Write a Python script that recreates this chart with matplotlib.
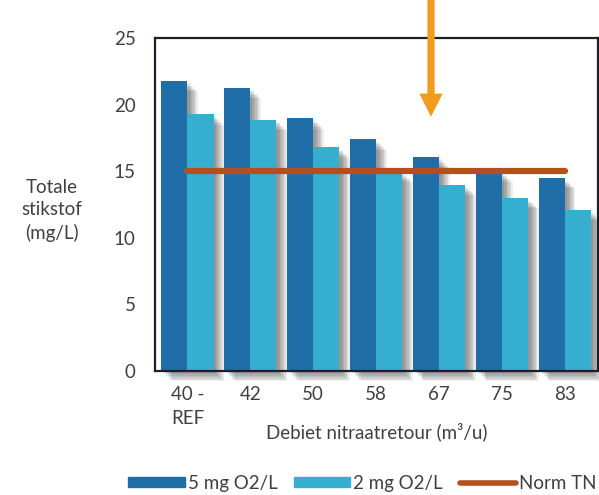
import numpy as np
import matplotlib.pyplot as plt
import matplotlib.patheffects as pe
from matplotlib.patches import FancyArrow

plt.rcParams['font.family'] = ['Lato', 'DejaVu Sans']

# flow of nitrate return [m3/h] and total nitrogen in effluent [mg/L]
debiet = ['40 -\nREF', '42', '50', '58', '67', '75', '83']
tn_5mg = [21.8, 21.3, 19.0, 17.4, 16.1, 15.0, 14.5]
tn_2mg = [19.3, 18.9, 16.8, 15.0, 14.0, 13.0, 12.1]
norm_tn = 15

dark = '#1f6ea8'
light = '#36aecf'
norm_col = '#b5501e'
txt = '#404040'
fs = 13.5

fig = plt.figure(figsize=(5.99, 4.95), dpi=100)
ax = fig.add_axes([0.259, 0.2505, 0.739, 0.672])

x = np.arange(len(debiet))
w = 0.415

# soft drop shadow, built from a few offset copies
shadow = [pe.SimplePatchShadow(offset=(o, -o), shadow_rgbFace='k', alpha=0.07)
          for o in (1.5, 2.5, 3.5, 4.5, 5.5, 6.5, 7.5)] + [pe.Normal()]

for i in range(len(x)):
    b1 = ax.bar(x[i] - w / 2, tn_5mg[i], w, color=dark, clip_on=False, zorder=2)
    b2 = ax.bar(x[i] + w / 2, tn_2mg[i], w, color=light, clip_on=False, zorder=2)
    for b in (b1[0], b2[0]):
        b.set_path_effects(shadow)

ax.plot([x[0], x[-1]], [norm_tn, norm_tn], color=norm_col, lw=4.5,
        solid_capstyle='round', zorder=3)

ax.set_xlim(-0.513, 6.52)
ax.set_ylim(0, 25)
ax.set_yticks([0, 5, 10, 15, 20, 25])
ax.set_xticks(x)
ax.set_xticklabels(debiet, fontsize=fs, color=txt, linespacing=1.45)
ax.tick_params(axis='y', length=0, pad=14, labelsize=fs, labelcolor=txt)
ax.tick_params(axis='x', length=0, pad=11)
for s in ax.spines.values():
    s.set_color('#1c1f2a')
    s.set_linewidth(1.6)
    s.set_zorder(5)

ax.set_xlabel('Debiet nitraatretour (m³/u)', fontsize=fs, color=txt, labelpad=-3)
fig.text(0.087, 0.575, 'Totale\nstikstof\n(mg/L)', fontsize=fs, color=txt,
         ha='center', va='center', linespacing=1.4)

# arrow marking the chosen flow
ax.add_patch(FancyArrow(3.87, 28.1, 0, -9.0, width=0.115, head_width=0.37,
                        head_length=1.75, length_includes_head=True,
                        color='#f29c1f', lw=0, clip_on=False, zorder=6))

h1 = plt.Rectangle((0, 0), 1, 1, color=dark)
h2 = plt.Rectangle((0, 0), 1, 1, color=light)
h3 = plt.Line2D([], [], color=norm_col, lw=4, solid_capstyle='round')
fig.legend([h1, h2, h3], ['5 mg O2/L', '2 mg O2/L', 'Norm TN'],
           loc='center', bbox_to_anchor=(0.605, 0.024), ncol=3, frameon=False,
           fontsize=fs, labelcolor=txt, handlelength=3.0, handleheight=0.5,
           handletextpad=0.15, columnspacing=0.9)

fig.savefig('out.png', dpi=100)
